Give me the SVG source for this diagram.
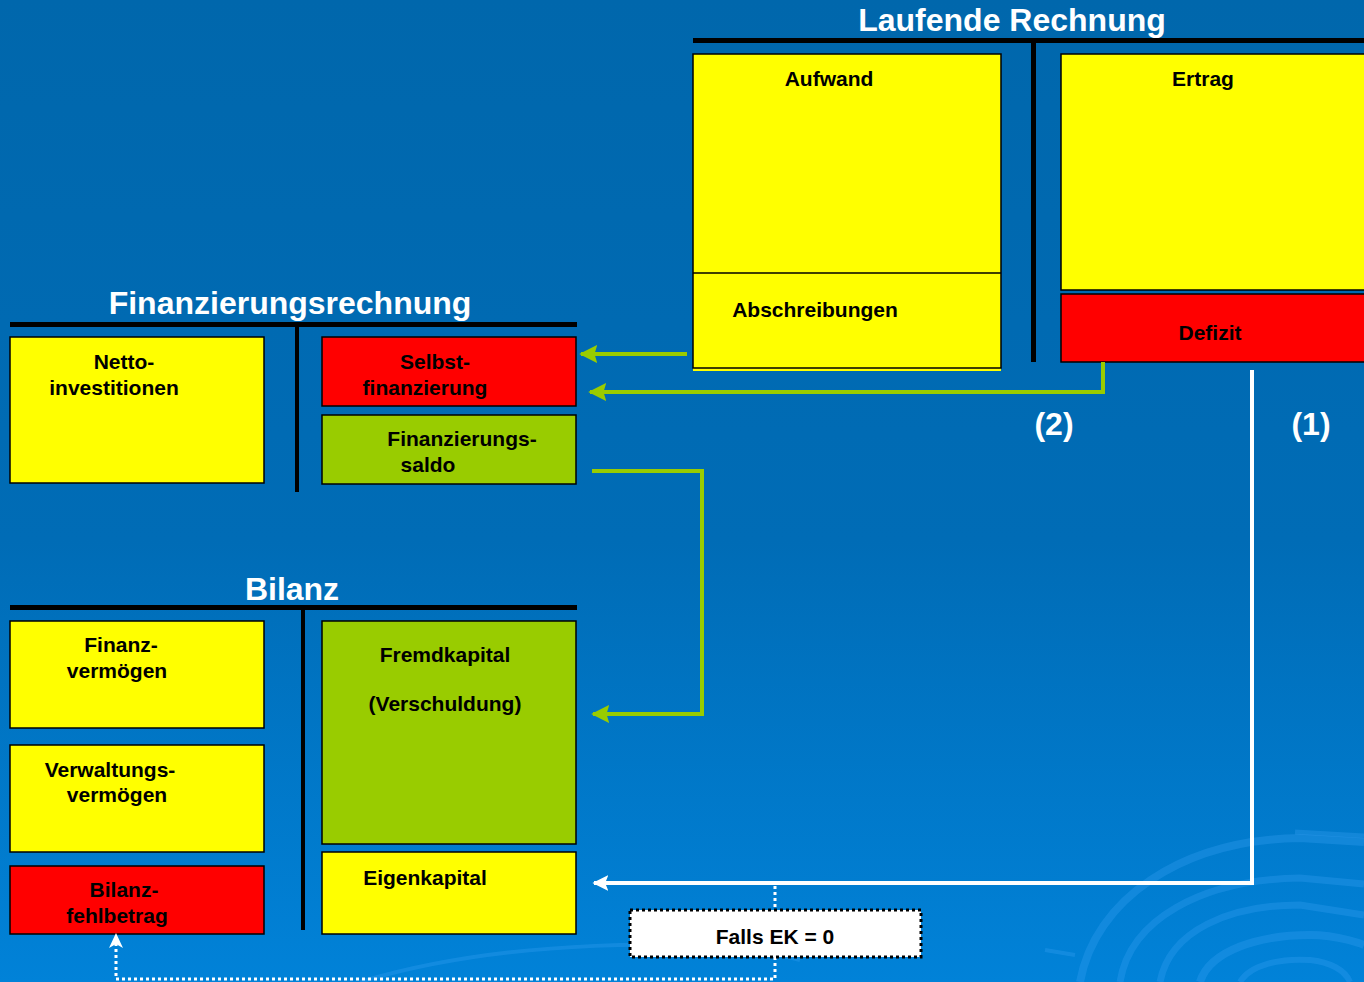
<svg xmlns="http://www.w3.org/2000/svg" width="1364" height="982" viewBox="0 0 1364 982">
<defs>
<linearGradient id="bg" x1="0" y1="0" x2="0" y2="1">
<stop offset="0" stop-color="#0067ac"/>
<stop offset="0.55" stop-color="#006cb6"/>
<stop offset="1" stop-color="#0182d8"/>
</linearGradient>
<marker id="ag" viewBox="0 0 10 10" refX="9" refY="5" markerWidth="4.5" markerHeight="4.5" markerUnits="strokeWidth" orient="auto">
<path d="M0,0 L10,5 L0,10 L1.5,5 Z" fill="#99cc00"/>
</marker>
<marker id="aw" viewBox="0 0 10 10" refX="9" refY="5" markerWidth="4" markerHeight="4" markerUnits="strokeWidth" orient="auto">
<path d="M0,0 L10,5 L0,10 L2,5 Z" fill="#ffffff"/>
</marker>
<style>
.t{font-family:"Liberation Sans",Arial,sans-serif;font-weight:bold;fill:#000;font-size:21px;text-anchor:middle}
.h{font-family:"Liberation Sans",Arial,sans-serif;font-weight:bold;fill:#fff;font-size:32px;text-anchor:middle}
.y{fill:#ffff00;stroke:#000;stroke-width:1.5}
.r{fill:#ff0000;stroke:#000;stroke-width:1.5}
.g{fill:#99cc00;stroke:#000;stroke-width:1.5}
.bar{fill:#000}
.gc{fill:none;stroke:#99cc00;stroke-width:4}
.wc{fill:none;stroke:#fff;stroke-width:4}
.wd{fill:none;stroke:#fff;stroke-width:3;stroke-dasharray:3 3}
.sw{fill:none;stroke:#3aa2f5;stroke-opacity:0.3}
</style>
</defs>
<rect width="1364" height="982" fill="url(#bg)"/>
<g id="swirl">
<path class="sw" stroke-width="8" d="M1080,982 C1095,900 1180,840 1300,838 L1364,842"/>
<path class="sw" stroke-width="7" d="M1120,982 C1130,920 1200,880 1300,878 L1364,884"/>
<path class="sw" stroke-width="7" d="M1160,982 C1170,930 1230,905 1300,905 L1364,915"/>
<path class="sw" stroke-width="8" d="M1200,982 C1210,950 1260,935 1310,935 C1340,935 1364,945 1364,945"/>
<path class="sw" stroke-width="6" d="M1240,982 C1250,965 1280,958 1310,960 C1330,962 1345,970 1350,982"/>
<path class="sw" stroke-width="5" d="M1295,832 L1364,836"/>
<path class="sw" stroke-width="4" d="M1045,950 L1075,955"/>
<path class="sw" stroke-width="4" d="M360,982 C500,940 700,935 800,960"/>
</g>

<g id="laufende-rechnung">
<text class="h" x="1012" y="31" font-size="31">Laufende Rechnung</text>
<rect class="bar" x="693" y="38" width="671" height="5"/>
<rect class="bar" x="1031" y="43" width="5" height="319"/>
</g>
<g id="aufwand">
<rect x="693" y="366" width="308" height="5" fill="#ffff00"/>
<rect class="y" x="693" y="54" width="308" height="314"/>
<line x1="693" y1="273" x2="1001" y2="273" stroke="#000" stroke-width="1.5"/>
<text class="t" x="829" y="86">Aufwand</text>
</g>
<g id="abschreibungen">
<text class="t" x="815" y="317">Abschreibungen</text>
</g>
<g id="ertrag">
<rect class="y" x="1061" y="54" width="310" height="236"/>
<text class="t" x="1203" y="86">Ertrag</text>
</g>
<g id="defizit">
<rect class="r" x="1061" y="294" width="310" height="68"/>
<text class="t" x="1210" y="340">Defizit</text>
</g>

<g id="finanzierungsrechnung">
<text class="h" x="290" y="314">Finanzierungsrechnung</text>
<rect class="bar" x="10" y="322" width="567" height="5"/>
<rect class="bar" x="295" y="327" width="4" height="165"/>
</g>
<g id="nettoinvestitionen">
<rect class="y" x="10" y="337" width="254" height="146"/>
<text class="t" x="124" y="369">Netto-</text>
<text class="t" x="114" y="395">investitionen</text>
</g>
<g id="selbstfinanzierung">
<rect class="r" x="322" y="337" width="254" height="69"/>
<text class="t" x="435" y="369">Selbst-</text>
<text class="t" x="425" y="395">finanzierung</text>
</g>
<g id="finanzierungssaldo">
<rect class="g" x="322" y="415" width="254" height="69"/>
<text class="t" x="462" y="446">Finanzierungs-</text>
<text class="t" x="428" y="472">saldo</text>
</g>

<g id="bilanz">
<text class="h" x="292" y="600">Bilanz</text>
<rect class="bar" x="10" y="605" width="567" height="5"/>
<rect class="bar" x="301" y="610" width="4" height="320"/>
</g>
<g id="finanzvermoegen">
<rect class="y" x="10" y="621" width="254" height="107"/>
<text class="t" x="121" y="652">Finanz-</text>
<text class="t" x="117" y="678">vermögen</text>
</g>
<g id="verwaltungsvermoegen">
<rect class="y" x="10" y="745" width="254" height="107"/>
<text class="t" x="110" y="777">Verwaltungs-</text>
<text class="t" x="117" y="802">vermögen</text>
</g>
<g id="bilanzfehlbetrag">
<rect class="r" x="10" y="866" width="254" height="68"/>
<text class="t" x="124" y="897">Bilanz-</text>
<text class="t" x="117" y="923">fehlbetrag</text>
</g>
<g id="fremdkapital">
<rect class="g" x="322" y="621" width="254" height="223"/>
<text class="t" x="445" y="662">Fremdkapital</text>
<text class="t" x="445" y="711">(Verschuldung)</text>
</g>
<g id="eigenkapital">
<rect class="y" x="322" y="852" width="254" height="82"/>
<text class="t" x="425" y="885">Eigenkapital</text>
</g>

<g id="connectors">
<path class="gc" d="M687,354 L581,354" marker-end="url(#ag)"/>
<path class="gc" d="M1103,362 L1103,392 L590,392" marker-end="url(#ag)"/>
<path class="gc" d="M592,471 L702,471 L702,714 L593,714" marker-end="url(#ag)"/>
<path class="wc" d="M1252,370 L1252,883 L594,883" marker-end="url(#aw)"/>
<path class="wd" d="M775,886 L775,910"/>
<path class="wd" d="M775,957 L775,979 L116,979 L116,940"/>
<path d="M116,933 L109,948 L116,944 L123,948 Z" fill="#fff"/>
<text class="h" x="1054" y="435" font-size="35">(2)</text>
<text class="h" x="1311" y="435" font-size="35">(1)</text>
</g>
<g id="falls-ek">
<rect x="630" y="910" width="291" height="47" fill="#fff" stroke="#000" stroke-width="3" stroke-dasharray="3 3"/>
<text class="t" x="775" y="944">Falls EK = 0</text>
</g>
</svg>
